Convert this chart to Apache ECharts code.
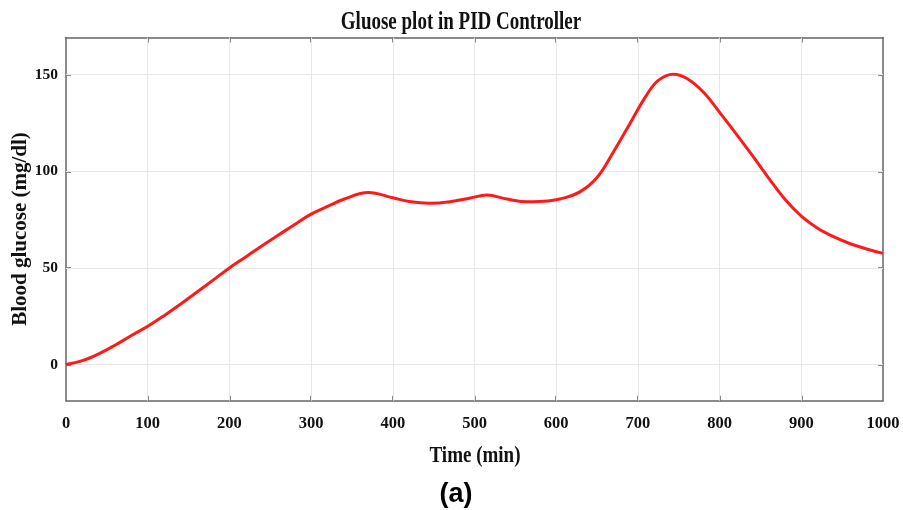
<!DOCTYPE html>
<html>
<head>
<meta charset="utf-8">
<script src="https://cdn.jsdelivr.net/npm/echarts@6/dist/echarts.min.js"></script>
<style>
  html, body { margin: 0; padding: 0; background: #fff; }
  #chart { width: 903px; height: 510px; }
</style>
</head>
<body>
<div id="chart"></div>
<script>
// Simulated blood glucose under PID control (turning points sampled explicitly)
const timeMin = [0, 20, 40, 60, 80, 100, 120, 140, 160, 180, 200, 220, 240, 260, 280, 300,
  320, 340, 370, 400, 420, 445, 470, 495, 515, 540, 565, 590, 610, 630, 650, 670,
  690, 710, 725, 743, 760, 780, 800, 820, 840, 860, 880, 900, 920, 940, 960, 980, 1000];
const glucose = [0, 2, 5.5, 10, 15, 19.8, 25.3, 31.2, 37.4, 43.7, 50, 55.7, 61.5, 67, 72.5, 77.8,
  81.8, 85.5, 89, 86.3, 84.3, 83.4, 84.2, 86.2, 87.7, 85.6, 84.2, 84.6, 86.2, 89.6, 96.8, 110,
  124.5, 139, 147, 150.2, 148, 141, 130.5, 119.5, 108.2, 96.5, 85.5, 76.8, 70.5, 66, 62.5, 59.8, 57.5];
const xTicks = [0, 100, 200, 300, 400, 500, 600, 700, 800, 900, 1000];
const yTicks = [0, 50, 100, 150];

const titleText = 'Gluose plot in PID Controller';
const xName = 'Time (min)';
const yName = 'Blood glucose (mg/dl)';
const panelTag = '(a)';

const serif = '"Liberation Serif", "Times New Roman", serif';
const axisColor = '#666';
const gridColor = '#e8e8e8';
const textColor = '#111';

const chart = echarts.init(document.getElementById('chart'));

const baseX = {
  type: 'value', min: 0, max: 1000,
  axisLine: { show: true, onZero: false, lineStyle: { color: axisColor, width: 1.5 } },
  axisTick: { show: true, inside: true, length: 5, customValues: xTicks.slice(1, -1), lineStyle: { color: axisColor, width: 1.5 } },
  splitLine: { show: false }
};
const baseY = {
  type: 'value', min: -18.7, max: 169.2,
  axisLine: { show: true, onZero: false, lineStyle: { color: axisColor, width: 1.5 } },
  axisTick: { show: true, inside: true, length: 5, customValues: yTicks, lineStyle: { color: axisColor, width: 1.5 } },
  splitLine: { show: false }
};

// centred text, optionally stretched or rotated about its own centre
function label(text, x, y, font, opts, fill) {
  return Object.assign({
    type: 'text', x: x, y: y, silent: true,
    style: { text: text, x: 0, y: 0, align: 'center', verticalAlign: 'middle', font: font, fill: fill || textColor }
  }, opts || {});
}

chart.setOption({
  animation: false,
  graphic: [
    label(titleText, 461, 22.5, 'bold 19px ' + serif, { scaleY: 1.3 }),
    label(xName, 475, 456, 'bold 19px ' + serif, { scaleY: 1.25 }),
    label(yName, 21, 229, 'bold 21px ' + serif, { rotation: Math.PI / 2 }),
    label(panelTag, 456, 495, 'bold 27px "Liberation Sans", Arial, sans-serif', {}, '#000')
  ],
  grid: { left: 66, right: 20, top: 37.5, bottom: 109.3, containLabel: false, outerBoundsMode: 'none' },
  xAxis: [
    Object.assign({}, baseX, {
      position: 'bottom',
      axisLabel: { customValues: xTicks, margin: 15, formatter: v => String(v),
        fontFamily: serif, fontWeight: 'bold', fontSize: 16.5, color: textColor }
    }),
    Object.assign({}, baseX, { position: 'top', axisLabel: { show: false } })
  ],
  yAxis: [
    Object.assign({}, baseY, {
      position: 'left',
      axisLabel: { customValues: yTicks, margin: 8, fontFamily: serif, fontWeight: 'bold', fontSize: 15.5, color: textColor }
    }),
    Object.assign({}, baseY, { position: 'right', axisLabel: { show: false } })
  ],
  series: [
    {
      // grid lines at the tick positions, kept beneath the curve
      type: 'line', data: [], z: 1, silent: true,
      markLine: {
        silent: true, symbol: 'none', label: { show: false }, z: 1,
        lineStyle: { color: gridColor, width: 1, type: 'solid' },
        data: xTicks.slice(1, -1).map(v => ({ xAxis: v }))
          .concat(yTicks.map(v => ({ yAxis: v })))
      }
    },
    {
      type: 'line',
      data: timeMin.map((t, i) => [t, glucose[i]]),
      smooth: 0.4,
      showSymbol: false,
      lineStyle: { color: '#ff1a1a', width: 3 },
      z: 5
    }
  ]
});
</script>
</body>
</html>
